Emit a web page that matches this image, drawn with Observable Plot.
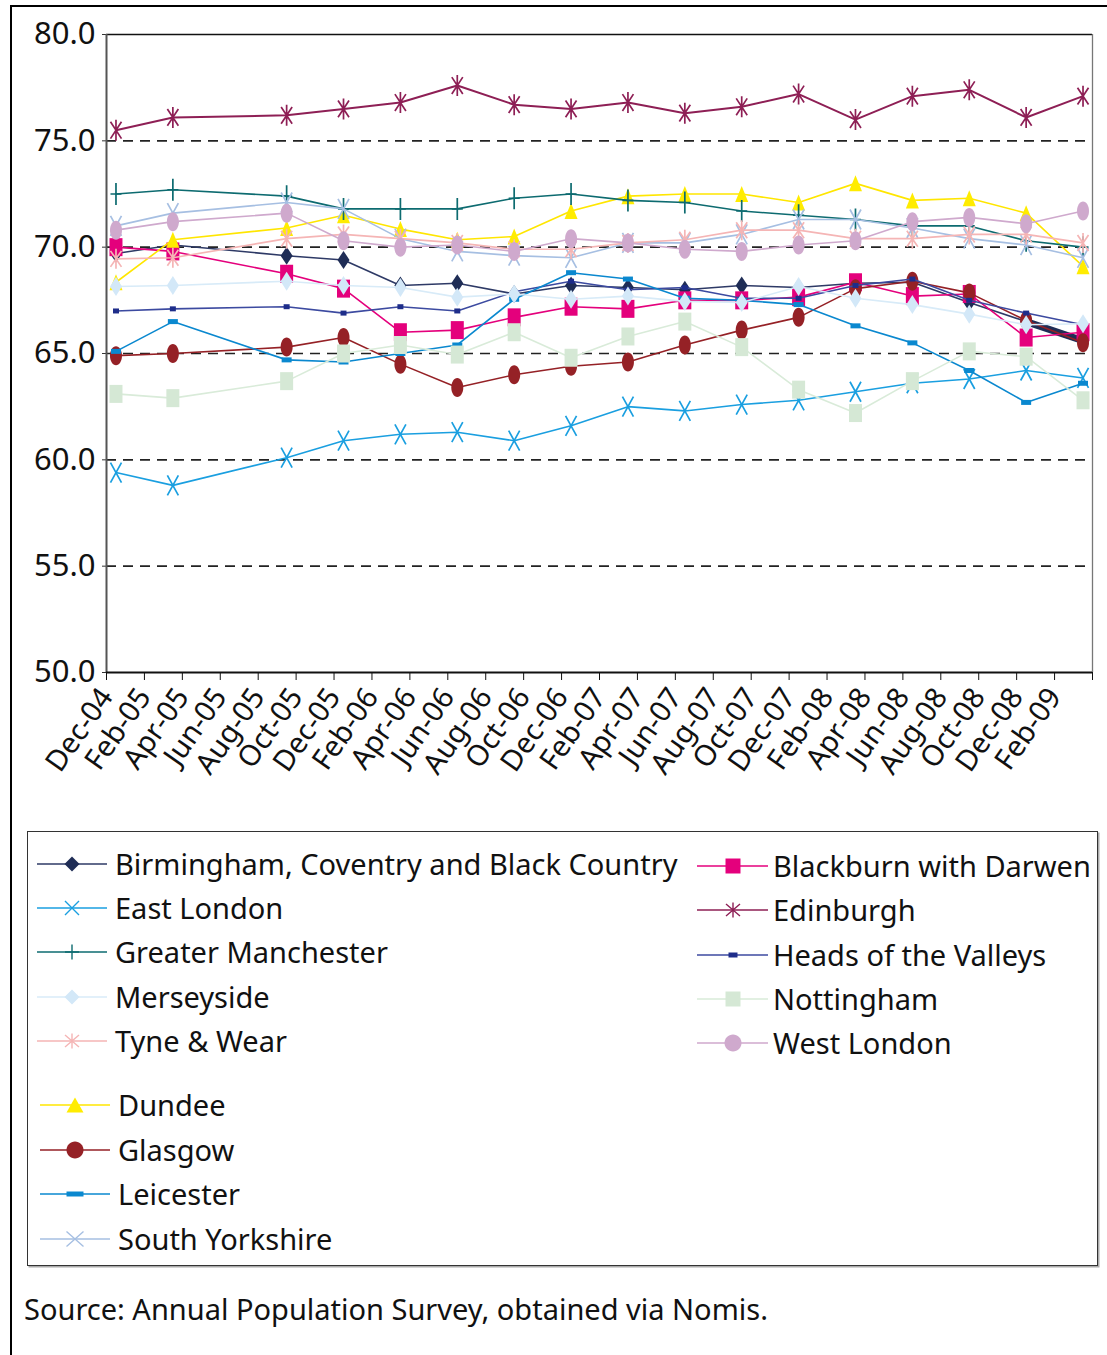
<!DOCTYPE html>
<html>
<head>
<meta charset="utf-8">
<script src="https://cdn.jsdelivr.net/npm/d3@7"></script>
<script src="https://cdn.jsdelivr.net/npm/@observablehq/plot@0.6"></script>
<style>
  body { margin: 0; background: #fff; font-family: "Noto Sans", sans-serif; }
  #page { position: relative; width: 1107px; height: 1355px; overflow: hidden; background: #fff; }
  #frame { position: absolute; left: 10px; top: 5px; width: 1300px; height: 1500px;
           border-top: 2.5px solid #000; border-left: 2.5px solid #000; }
  #chart { position: absolute; left: 0; top: 0; }
  #legend { position: absolute; left: 27px; top: 831px; width: 1069px; height: 433px;
            border: 1.5px solid #333; box-shadow: 1.5px 1.5px 0 #aaa; background: #fff; }
  .item { position: absolute; height: 40px; display: flex; align-items: center;
          font-size: 29px; color: #111; white-space: nowrap; }
  .item svg { position: absolute; top: 0; }
  .item span { position: absolute; top: 0; line-height: 40px; }
  #source { position: absolute; left: 24px; top: 1289px; font-size: 29px; color: #111; white-space: nowrap; }
</style>
</head>
<body>
<div id="page">
  <div id="frame"></div>
  <div id="chart"></div>
  <div id="legend"></div>
  <div id="source">Source: Annual Population Survey, obtained via Nomis.</div>
</div>
<script>
// ---- Data ----
const periods = ["Dec-04","Mar-05","Sep-05","Dec-05","Mar-06","Jun-06","Sep-06","Dec-06","Mar-07","Jun-07","Sep-07","Dec-07","Mar-08","Jun-08","Sep-08","Dec-08","Mar-09"];
const tickLabels = ["Dec-04","Feb-05","Apr-05","Jun-05","Aug-05","Oct-05","Dec-05","Feb-06","Apr-06","Jun-06","Aug-06","Oct-06","Dec-06","Feb-07","Apr-07","Jun-07","Aug-07","Oct-07","Dec-07","Feb-08","Apr-08","Jun-08","Aug-08","Oct-08","Dec-08","Feb-09"];
const yTicks = [50, 55, 60, 65, 70, 75, 80];
const gridValues = [55, 60, 65, 70, 75];

const birmingham      = [69.7, 70.1, 69.6, 69.4, 68.2, 68.3, 67.8, 68.2, 68.1, 68.0, 68.2, 68.1, 68.3, 68.35, 67.4, 66.5, 65.6];
const blackburn       = [70.0, 69.8, 68.75, 68.05, 66.0, 66.1, 66.7, 67.2, 67.1, 67.5, 67.5, 67.65, 68.35, 67.7, 67.8, 65.75, 66.0];
const dundee          = [68.35, 70.35, 70.9, 71.5, 70.85, 70.35, 70.5, 71.7, 72.4, 72.5, 72.5, 72.1, 73.0, 72.2, 72.3, 71.6, 69.1];
const eastLondon      = [59.4, 58.8, 60.1, 60.9, 61.2, 61.3, 60.9, 61.6, 62.5, 62.3, 62.6, 62.8, 63.2, 63.6, 63.8, 64.2, 63.85];
const edinburgh       = [75.5, 76.1, 76.2, 76.5, 76.8, 77.6, 76.7, 76.5, 76.8, 76.3, 76.6, 77.2, 76.0, 77.1, 77.4, 76.1, 77.1];
const glasgow         = [64.9, 65.0, 65.3, 65.75, 64.5, 63.4, 64.0, 64.4, 64.6, 65.4, 66.1, 66.7, 68.05, 68.4, 67.85, 66.55, 65.5];
const greaterManchester = [72.5, 72.7, 72.4, 71.8, 71.8, 71.8, 72.3, 72.5, 72.2, 72.1, 71.7, 71.5, 71.3, 71.0, 71.0, 70.3, 70.0];
const headsOfValleys  = [67.0, 67.1, 67.2, 66.9, 67.2, 67.0, 67.9, 68.4, 68.0, 68.1, 67.6, 67.6, 68.2, 68.5, 67.5, 66.9, 66.35];
const leicester       = [65.1, 66.5, 64.7, 64.6, 65.0, 65.4, 67.55, 68.8, 68.5, 67.6, 67.5, 67.3, 66.3, 65.5, 64.2, 62.7, 63.6];
const merseyside      = [68.15, 68.2, 68.4, 68.2, 68.1, 67.65, 67.8, 67.55, 67.7, 67.45, 67.4, 68.15, 67.6, 67.3, 66.85, 66.35, 66.4];
const nottingham      = [63.1, 62.9, 63.7, 65.0, 65.4, 64.95, 66.0, 64.8, 65.8, 66.5, 65.3, 63.3, 62.2, 63.7, 65.1, 64.85, 62.8];
const southYorkshire  = [71.0, 71.6, 72.1, 71.8, 70.4, 69.8, 69.6, 69.5, 70.2, 70.2, 70.6, 71.3, 71.3, 70.9, 70.4, 70.1, 69.5];
const tyneWear        = [69.45, 69.5, 70.4, 70.6, 70.4, 70.2, 69.9, 69.9, 70.2, 70.35, 70.8, 70.8, 70.4, 70.4, 70.6, 70.6, 70.2];
const westLondon      = [70.8, 71.2, 71.6, 70.3, 70.0, 70.1, 69.8, 70.4, 70.2, 69.9, 69.8, 70.1, 70.3, 71.2, 71.4, 71.1, 71.7];

// ---- Series styles (drawing order = alphabetical, as in the source chart) ----
const series = [
  {name: "Birmingham, Coventry and Black Country", values: birmingham, color: "#1f2d56", line: "#2e3a66", kind: "diamond", w: 12, h: 18, lw: 15, lh: 15, filled: true},
  {name: "Blackburn with Darwen", values: blackburn, color: "#e4007c", line: "#e4007c", kind: "rect", w: 13, h: 18, lw: 15, lh: 15, filled: true},
  {name: "Dundee", values: dundee, color: "#ffec00", line: "#ffe600", kind: "triangle", w: 13, h: 16, lw: 17, lh: 15, filled: true},
  {name: "East London", values: eastLondon, color: "#1a9fe0", line: "#1a9fe0", kind: "x", w: 11, h: 20, lw: 14, lh: 14, filled: false},
  {name: "Edinburgh", values: edinburgh, color: "#8e1f55", line: "#8e1f55", kind: "asterisk", w: 11, h: 21, lw: 14, lh: 15, filled: false},
  {name: "Glasgow", values: glasgow, color: "#952126", line: "#952126", kind: "ellipse", w: 12, h: 19, lw: 17, lh: 17, filled: true},
  {name: "Greater Manchester", values: greaterManchester, color: "#0d6b70", line: "#0d6b70", kind: "plus", w: 11, h: 22, lw: 14, lh: 15, filled: false},
  {name: "Heads of the Valleys", values: headsOfValleys, color: "#1e2d8a", line: "#3c4aa0", kind: "rect", w: 6, h: 5, lw: 9, lh: 5, filled: true},
  {name: "Leicester", values: leicester, color: "#0a88cf", line: "#0a88cf", kind: "rect", w: 10, h: 5, lw: 17, lh: 5, filled: true},
  {name: "Merseyside", values: merseyside, color: "#d3e8f8", line: "#d8ebf8", kind: "diamond", w: 12, h: 19, lw: 15, lh: 15, filled: true},
  {name: "Nottingham", values: nottingham, color: "#d5e8d5", line: "#d9ebd9", kind: "rect", w: 13, h: 18, lw: 15, lh: 15, filled: true},
  {name: "South Yorkshire", values: southYorkshire, color: "#a6bfe2", line: "#a6bfe2", kind: "x", w: 11, h: 20, lw: 17, lh: 15, filled: false},
  {name: "Tyne & Wear", values: tyneWear, color: "#f5b5b5", line: "#f5b5b5", kind: "asterisk", w: 11, h: 20, lw: 14, lh: 15, filled: false},
  {name: "West London", values: westLondon, color: "#cfa9cd", line: "#cfa9cd", kind: "ellipse", w: 12, h: 19, lw: 17, lh: 17, filled: true}
];

// legend layout
const legendLeft = ["Birmingham, Coventry and Black Country", "East London", "Greater Manchester", "Merseyside", "Tyne & Wear"];
const legendRight = ["Blackburn with Darwen", "Edinburgh", "Heads of the Valleys", "Nottingham", "West London"];
const legendBottom = ["Dundee", "Glasgow", "Leicester", "South Yorkshire"];

// ---- helpers ----
const parseMonth = d3.utcParse("%b-%y");
const base = parseMonth("Dec-04");
const monthIndex = s => d3.utcMonth.count(base, parseMonth(s));

function drawShape(ctx, kind, w, h) {
  const a = w / 2, b = h / 2;
  switch (kind) {
    case "diamond": ctx.moveTo(0, -b); ctx.lineTo(a, 0); ctx.lineTo(0, b); ctx.lineTo(-a, 0); ctx.closePath(); break;
    case "rect": ctx.rect(-a, -b, w, h); break;
    case "triangle": ctx.moveTo(0, -b); ctx.lineTo(a, b); ctx.lineTo(-a, b); ctx.closePath(); break;
    case "ellipse": {
      const k = 0.5523;
      ctx.moveTo(a, 0);
      ctx.bezierCurveTo(a, k * b, k * a, b, 0, b);
      ctx.bezierCurveTo(-k * a, b, -a, k * b, -a, 0);
      ctx.bezierCurveTo(-a, -k * b, -k * a, -b, 0, -b);
      ctx.bezierCurveTo(k * a, -b, a, -k * b, a, 0);
      ctx.closePath(); break;
    }
    case "x": ctx.moveTo(-a, -b); ctx.lineTo(a, b); ctx.moveTo(a, -b); ctx.lineTo(-a, b); break;
    case "plus": ctx.moveTo(0, -b); ctx.lineTo(0, b); ctx.moveTo(-a, 0); ctx.lineTo(a, 0); break;
    case "asterisk": ctx.moveTo(-a, -b * 0.8); ctx.lineTo(a, b * 0.8); ctx.moveTo(a, -b * 0.8); ctx.lineTo(-a, b * 0.8); ctx.moveTo(0, -b); ctx.lineTo(0, b); break;
  }
}
const symbolOf = (kind, w, h) => ({draw(ctx) { drawShape(ctx, kind, w, h); }});

// ---- Table ----
const rows = [];
series.forEach(s => s.values.forEach((v, i) => rows.push({series: s.name, period: periods[i], m: monthIndex(periods[i]) + 0.5, value: v})));

const labelByMonth = new Map(tickLabels.map(l => [monthIndex(l), l]));
const xTicks = d3.range(0, 53, 2);

const marks = [
  Plot.ruleY(gridValues, {stroke: "#222", strokeWidth: 1.6, strokeDasharray: "10,7"}),
  Plot.ruleY([80], {stroke: "#111", strokeWidth: 1.3}),
  Plot.ruleX([52], {stroke: "#777", strokeWidth: 1.3}),
  Plot.axisY({ticks: yTicks, tickFormat: d3.format(".1f"), tickSize: 4, tickPadding: 7, fontSize: 31, label: null, stroke: "#333"}),
  Plot.axisX({ticks: xTicks, tickFormat: d => labelByMonth.get(d) ?? "", tickRotate: -55, tickSize: 8, tickPadding: 11, dx: 0, fontSize: 29, label: null, stroke: "#111"}),
  Plot.ruleX([0], {stroke: "#555", strokeWidth: 2}),
  Plot.ruleY([50], {stroke: "#111", strokeWidth: 2})
];

series.forEach(s => {
  const data = rows.filter(r => r.series === s.name);
  marks.push(Plot.line(data, {x: "m", y: "value", stroke: s.line, strokeWidth: s.name === "Edinburgh" ? 2 : 1.6}));
  if (s.name.startsWith("Birmingham")) {
    marks.push(Plot.line(data.slice(-2), {x: "m", y: "value", stroke: s.color, strokeWidth: 7}));
  }
  marks.push(Plot.dot(data, {
    x: "m", y: "value", r: 5,
    symbol: symbolOf(s.kind, s.w, s.h),
    fill: s.filled ? s.color : "none",
    stroke: s.filled ? "none" : s.color,
    strokeWidth: s.filled ? 0 : 1.7
  }));
});

const chart = Plot.plot({
  width: 1107,
  height: 820,
  marginLeft: 106,
  marginRight: 15,
  marginTop: 34,
  marginBottom: 148,
  style: {fontFamily: "Noto Sans, sans-serif", color: "#111", background: "transparent", overflow: "visible"},
  x: {type: "linear", domain: [0, 52]},
  y: {domain: [50, 80]},
  marks
});
document.getElementById("chart").append(chart);

// ---- Legend ----
const legend = d3.select("#legend");
function addItem(name, top, lineX0, lineX1, markX, textX) {
  const s = series.find(d => d.name === name);
  const item = legend.append("div").attr("class", "item").style("left", "0px").style("top", (top - 20) + "px").style("width", "1065px");
  const svg = item.append("svg").attr("width", lineX1 + 4).attr("height", 40).style("left", "0px");
  svg.append("line").attr("x1", lineX0).attr("x2", lineX1).attr("y1", 20).attr("y2", 20).attr("stroke", s.line).attr("stroke-width", 1.6);
  const p = d3.path(); drawShape(p, s.kind, s.lw, s.lh);
  svg.append("path").attr("d", p.toString()).attr("transform", `translate(${markX},20)`)
    .attr("fill", s.filled ? s.color : "none").attr("stroke", s.filled ? "none" : s.color).attr("stroke-width", 1.4);
  item.append("span").style("left", textX + "px").text(name);
}
legendLeft.forEach((n, i) => addItem(n, 32 + i * 44.2, 9, 79, 44, 87));
legendRight.forEach((n, i) => addItem(n, 34 + i * 44.3, 669, 740, 705, 745));
legendBottom.forEach((n, i) => addItem(n, 273 + i * 44.7, 12, 82, 47, 90));
</script>
</body>
</html>
